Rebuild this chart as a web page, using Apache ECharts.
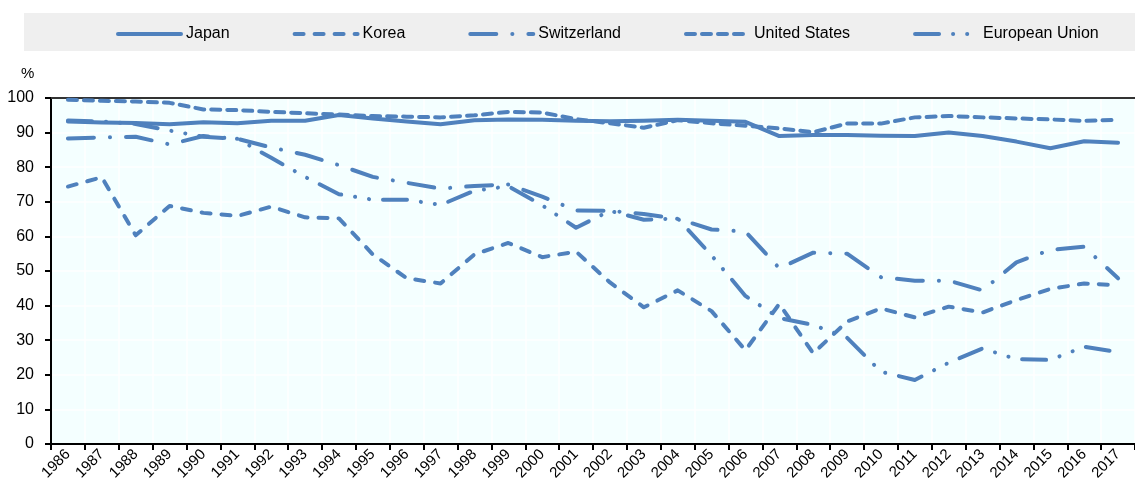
<!DOCTYPE html>
<html>
<head>
<meta charset="utf-8">
<script src="https://cdn.jsdelivr.net/npm/echarts@6/dist/echarts.min.js"></script>
<style>
  html, body { margin: 0; padding: 0; background: #ffffff; }
  #chart { width: 1135px; height: 484px; }
</style>
</head>
<body>
<div id="chart"></div>
<script>
// Years on the category axis
const years = ['1986','1987','1988','1989','1990','1991','1992','1993','1994','1995','1996',
  '1997','1998','1999','2000','2001','2002','2003','2004','2005','2006','2007','2008',
  '2009','2010','2011','2012','2013','2014','2015','2016','2017'];

// Series values, %
const japan = [93.2, 92.9, 92.8, 92.4, 93.0, 92.7, 93.4, 93.4, 95.1, 94.1, 93.2, 92.4, 93.6, 93.8, 93.7, 93.4,
  93.3, 93.4, 93.7, 93.4, 93.1, 89.0, 89.3, 89.3, 89.1, 89.0, 90.0, 89.0, 87.4, 85.5, 87.5, 87.1];
const korea = [74.4, 77.1, 60.3, 68.8, 66.8, 65.9, 68.6, 65.5, 65.2, 54.8, 47.9, 46.4, 54.8, 58.1, 54.0, 55.6,
  46.7, 39.5, 44.4, 38.4, 27.1, 40.5, 26.2, 35.4, 39.2, 36.6, 39.7, 38.0, 41.6, 44.8, 46.4, 45.9];
const switzerland = [88.3, 88.6, 88.8, 86.6, 89.0, 88.2, 85.7, 83.6, 80.6, 77.2, 75.5, 73.8, 74.6, 75.0, 71.5, 67.5,
  67.4, 66.5, 65.1, 62.0, 61.4, 50.8, 55.3, 55.0, 48.2, 47.2, 47.2, 44.4, 52.5, 56.1, 57.0, 47.9];
const unitedStates = [99.5, 99.2, 99.0, 98.6, 96.7, 96.5, 96.0, 95.6, 95.2, 94.8, 94.6, 94.4, 95.0, 96.0, 95.8, 93.9,
  92.7, 91.4, 93.6, 92.7, 92.0, 91.2, 90.1, 92.6, 92.6, 94.4, 94.8, 94.4, 94.1, 93.8, 93.4, 93.7];
const europeanUnion = [93.5, 93.2, 92.5, 90.6, 88.8, 88.2, 82.7, 77.2, 72.2, 70.6, 70.6, 69.1, 73.2, 74.5, 69.0, 62.5,
  67.4, 64.8, 65.2, 54.5, 42.8, 36.4, 34.4, 30.7, 20.9, 18.5, 23.5, 27.6, 24.5, 24.3, 28.1, 26.6];

// Y-axis ticks
const yMin = 0, yMax = 100, yStep = 10;

const BLUE = '#4F81BD';
const LW = 4;
const FONT = '"Liberation Sans", Arial, sans-serif';

function lineSeries(name, data, dash) {
  return {
    name: name,
    type: 'line',
    data: data,
    symbol: 'none',
    smooth: false,
    z: 3,
    lineStyle: { color: BLUE, width: LW, type: dash, cap: 'round', join: 'round' },
    itemStyle: { color: BLUE },
    emphasis: { disabled: true }
  };
}

const chart = echarts.init(document.getElementById('chart'), null, { renderer: 'canvas' });

chart.setOption({
  animation: false,
  backgroundColor: '#ffffff',
  graphic: [
    {
      type: 'rect',
      left: 24, top: 13,
      shape: { width: 1111, height: 38 },
      style: { fill: '#EFEFEF' },
      z: -10, silent: true
    },
    {
      type: 'text',
      left: 21, top: 66,
      style: { text: '%', font: '15px ' + FONT, fill: '#000' },
      silent: true
    }
  ],
  legend: {
    left: 111, top: 21,
    icon: 'inherit',
    itemWidth: 63, itemHeight: 14, itemGap: 63,
    itemStyle: { opacity: 0 },
    lineStyle: { width: LW, cap: 'round' },
    textStyle: { fontFamily: FONT, fontSize: 16, color: '#000' },
    selectedMode: false,
    data: ['Japan', 'Korea', 'Switzerland', 'United States', 'European Union']
  },
  grid: {
    left: 51, top: 98, width: 1095, height: 346,
    show: true, backgroundColor: '#F4FFFF', borderWidth: 0,
    containLabel: false
  },
  xAxis: [
    {
      type: 'category', data: years, boundaryGap: true, position: 'bottom',
      axisLine: { show: true, lineStyle: { color: '#000', width: 2 } },
      axisTick: { show: true, length: 6, interval: 0, lineStyle: { color: '#000', width: 2 } },
      splitLine: { show: true, interval: 0, lineStyle: { color: '#ffffff', width: 1.5 } },
      axisLabel: { interval: 0, rotate: 45, margin: 8, color: '#000', fontFamily: FONT, fontSize: 15 }
    },
    {
      type: 'category', data: years, boundaryGap: true, position: 'top',
      axisLine: { show: true, lineStyle: { color: '#333', width: 2 } },
      axisTick: { show: false }, axisLabel: { show: false }, splitLine: { show: false }
    }
  ],
  yAxis: {
    type: 'value', min: yMin, max: yMax, interval: yStep,
    axisLine: { show: true, lineStyle: { color: '#000', width: 2 } },
    axisTick: { show: true, length: 6, lineStyle: { color: '#000', width: 2 } },
    splitLine: { show: true, lineStyle: { color: '#ffffff', width: 1.5 } },
    axisLabel: { margin: 17, color: '#000', fontFamily: FONT, fontSize: 16 }
  },
  series: [
    lineSeries('Japan', japan, 'solid'),
    lineSeries('Korea', korea, [9, 11]),
    lineSeries('Switzerland', switzerland, [26, 16, 0.1, 16]),
    lineSeries('United States', unitedStates, [9, 7]),
    lineSeries('European Union', europeanUnion, [24, 14, 0.1, 14, 0.1, 14])
  ]
});
</script>
</body>
</html>
